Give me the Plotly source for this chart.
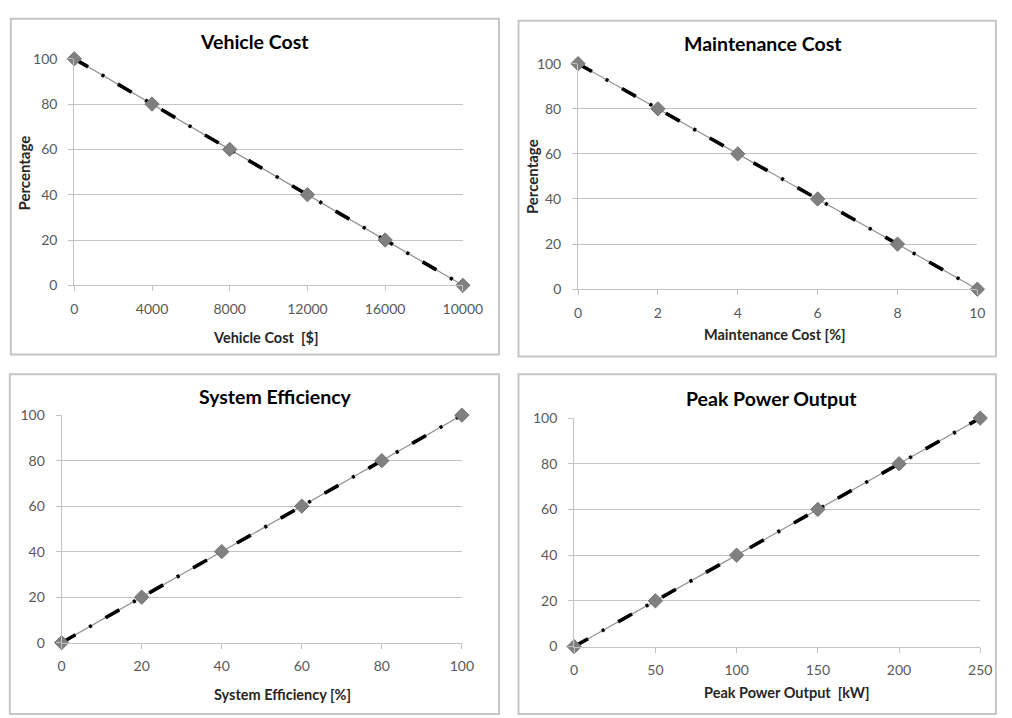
import plotly.graph_objects as go

# ---- data -------------------------------------------------------------
vehicle_cost_labels = ["0", "4000", "8000", "12000", "16000", "10000"]
vehicle_cost_pct = [100, 80, 60, 40, 20, 0]

maintenance_labels = ["0", "2", "4", "6", "8", "10"]
maintenance_pct = [100, 80, 60, 40, 20, 0]

efficiency_labels = ["0", "20", "40", "60", "80", "100"]
efficiency_pct = [0, 20, 40, 60, 80, 100]

power_labels = ["0", "50", "100", "150", "200", "250"]
power_pct = [0, 20, 40, 60, 80, 100]

panels = [
    ("Vehicle Cost", "Vehicle Cost  [$]", "Percentage", vehicle_cost_labels, vehicle_cost_pct),
    ("Maintenance Cost", "Maintenance Cost [%]", "Percentage", maintenance_labels, maintenance_pct),
    ("System Efficiency", "System Efficiency [%]", None, efficiency_labels, efficiency_pct),
    ("Peak Power Output", "Peak Power Output  [kW]", None, power_labels, power_pct),
]

# ---- layout geometry (pixels) -----------------------------------------
W, H = 1012, 718
# plot areas: left, right, top(100), bottom(0)
areas = [(72, 470, 51, 283), (588, 997, 56, 287), (59, 469, 416, 649), (584, 1000, 419, 653)]
# panel frames: x0, x1, y0, y1
frames = [(7, 507, 10, 354), (527, 1016, 12, 356), (6, 507, 374, 722), (527, 1016, 374, 722)]
# title centres, x-title centres, y-title centres
title_pos = [(257, 33), (777, 35), (278, 397), (786, 399)]
xtitle_pos = [(268, 336), (790, 333), (285, 702), (802, 700)]
ytitle_pos = [(21, 168), (541, 172), None, None]

FONT = "Lato, 'Open Sans', Arial, sans-serif"
GRID = "#c3c3c3"
TICKC = "#595959"


def px(x):
    return x / W


def py(y):
    return 1 - y / H


fig = go.Figure()
layout = dict(
    width=W, height=H, autosize=False,
    margin=dict(l=0, r=0, t=0, b=0),
    paper_bgcolor="white", plot_bgcolor="white",
    showlegend=False,
    font=dict(family=FONT, color=TICKC),
    shapes=[], annotations=[],
)

for i, (title, xtitle, ytitle, labels, values) in enumerate(panels):
    n = i + 1
    xa = "x" if n == 1 else f"x{n}"
    ya = "y" if n == 1 else f"y{n}"
    l, r, t, b = areas[i]

    # thin grey series line
    fig.add_trace(go.Scatter(x=labels, y=values, xaxis=xa, yaxis=ya, mode="lines",
                             line=dict(color="#8e8e8e", width=1.2), hoverinfo="skip",
                             cliponaxis=False))
    # heavy black dash-dot trend line
    fig.add_trace(go.Scatter(x=labels, y=values, xaxis=xa, yaxis=ya, mode="lines",
                             line=dict(color="#000000", width=3.6,
                                       dash="16px,15.7px,3px,15.7px"),
                             hoverinfo="skip", cliponaxis=False))
    # diamond markers
    fig.add_trace(go.Scatter(x=labels, y=values, xaxis=xa, yaxis=ya, mode="markers",
                             marker=dict(symbol="diamond", size=11, color="#808080",
                                         line=dict(color="#737373", width=1)),
                             cliponaxis=False))

    xkey = "xaxis" if n == 1 else f"xaxis{n}"
    ykey = "yaxis" if n == 1 else f"yaxis{n}"
    layout[xkey] = dict(
        domain=[px(l), px(r)], anchor=ya, type="category",
        categoryorder="array", categoryarray=labels,
        range=[0, len(labels) - 1],
        showgrid=False, zeroline=False,
        showline=True, linecolor=GRID, linewidth=1,
        ticks="outside", ticklen=5, tickcolor=GRID, tickwidth=1,
        tickfont=dict(family=FONT, size=14, color=TICKC),
        ticklabelstandoff=6,
        fixedrange=True,
    )
    layout[ykey] = dict(
        domain=[py(b), py(t)], anchor=xa,
        range=[0, 100], tickmode="linear", tick0=0, dtick=20,
        showgrid=True, gridcolor=GRID, gridwidth=1,
        zeroline=False,
        showline=True, linecolor=GRID, linewidth=1,
        ticks="outside", ticklen=5, tickcolor=GRID, tickwidth=1,
        tickfont=dict(family=FONT, size=14, color=TICKC),
        ticklabelstandoff=8,
        fixedrange=True,
    )

    fx0, fx1, fy0, fy1 = frames[i]
    layout["shapes"].append(dict(type="rect", xref="paper", yref="paper",
                                 x0=px(fx0), x1=px(fx1), y0=py(fy1), y1=py(fy0),
                                 line=dict(color="#c6c6c6", width=2), layer="below"))

    tx, ty = title_pos[i]
    layout["annotations"].append(dict(text=f"<b>{title}</b>", xref="paper", yref="paper",
                                      x=px(tx), y=py(ty), xanchor="center", yanchor="middle",
                                      showarrow=False,
                                      font=dict(family=FONT, size=19.5, color="#000000")))
    ax_, ay_ = xtitle_pos[i]
    layout["annotations"].append(dict(text=f"<b>{xtitle}</b>", xref="paper", yref="paper",
                                      x=px(ax_), y=py(ay_), xanchor="center", yanchor="middle",
                                      showarrow=False,
                                      font=dict(family=FONT, size=14.5, color="#262626")))
    if ytitle and ytitle_pos[i]:
        yx, yy = ytitle_pos[i]
        layout["annotations"].append(dict(text=f"<b>{ytitle}</b>", xref="paper", yref="paper",
                                          x=px(yx), y=py(yy), xanchor="center", yanchor="middle",
                                          textangle=-90, showarrow=False,
                                          font=dict(family=FONT, size=15, color="#262626")))

fig.update_layout(**layout)
fig.write_html("out.html")
